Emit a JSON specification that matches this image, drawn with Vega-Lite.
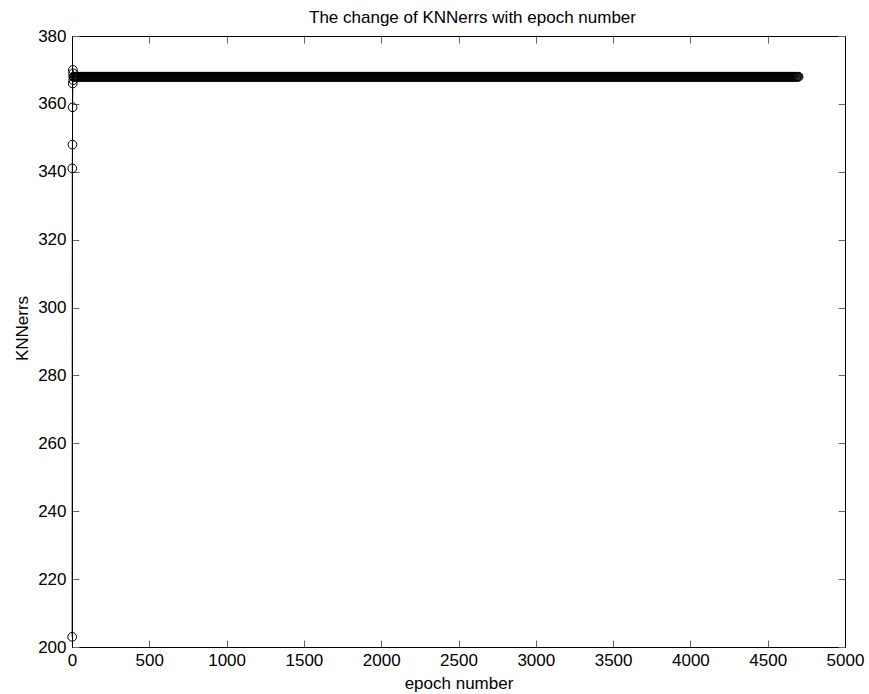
{
"$schema": "https://vega.github.io/schema/vega-lite/v6.json",
"width": 773, "height": 611,
"autosize": "none",
"padding": {"left": 72, "top": 36, "right": 24, "bottom": 47},
"background": "white",
"title": {"text": "The change of KNNerrs with epoch number", "font": "Liberation Sans", "fontSize": 17, "fontWeight": "normal", "color": "black", "anchor": "middle", "frame": "group", "dx": 14, "baseline": "top", "offset": 0},
"config": {
 "view": {"stroke": "black", "strokeWidth": 1},
 "axis": {"grid": false, "labelFont": "Liberation Sans", "labelFontSize": 17, "labelColor": "black", "titleFont": "Liberation Sans", "titleFontSize": 17, "titleFontWeight": "normal", "titleColor": "black", "domainColor": "black", "domainWidth": 1, "tickColor": "#666666", "tickSize": -7, "tickWidth": 1}
},
"data": {"values": [
{"e":1,"k":203},{"e":2,"k":341},{"e":3,"k":348},{"e":4,"k":359},{"e":5,"k":366},{"e":6,"k":370},{"e":7,"k":369},{"e":8,"k":367},{"e":9,"k":368},
{"e":10,"k":368},{"e":15,"k":368},{"e":20,"k":368},{"e":25,"k":368},{"e":30,"k":368},{"e":35,"k":368},{"e":40,"k":368},{"e":45,"k":368},{"e":50,"k":368},{"e":55,"k":368},{"e":60,"k":368},{"e":65,"k":368},{"e":70,"k":368},{"e":75,"k":368},{"e":80,"k":368},{"e":85,"k":368},{"e":90,"k":368},{"e":95,"k":368},{"e":100,"k":368},
{"e":105,"k":368},{"e":110,"k":368},{"e":115,"k":368},{"e":120,"k":368},{"e":125,"k":368},{"e":130,"k":368},{"e":135,"k":368},{"e":140,"k":368},{"e":145,"k":368},{"e":150,"k":368},{"e":155,"k":368},{"e":160,"k":368},{"e":165,"k":368},{"e":170,"k":368},{"e":175,"k":368},{"e":180,"k":368},{"e":185,"k":368},{"e":190,"k":368},{"e":195,"k":368},{"e":200,"k":368},
{"e":205,"k":368},{"e":210,"k":368},{"e":215,"k":368},{"e":220,"k":368},{"e":225,"k":368},{"e":230,"k":368},{"e":235,"k":368},{"e":240,"k":368},{"e":245,"k":368},{"e":250,"k":368},{"e":255,"k":368},{"e":260,"k":368},{"e":265,"k":368},{"e":270,"k":368},{"e":275,"k":368},{"e":280,"k":368},{"e":285,"k":368},{"e":290,"k":368},{"e":295,"k":368},{"e":300,"k":368},
{"e":305,"k":368},{"e":310,"k":368},{"e":315,"k":368},{"e":320,"k":368},{"e":325,"k":368},{"e":330,"k":368},{"e":335,"k":368},{"e":340,"k":368},{"e":345,"k":368},{"e":350,"k":368},{"e":355,"k":368},{"e":360,"k":368},{"e":365,"k":368},{"e":370,"k":368},{"e":375,"k":368},{"e":380,"k":368},{"e":385,"k":368},{"e":390,"k":368},{"e":395,"k":368},{"e":400,"k":368},
{"e":405,"k":368},{"e":410,"k":368},{"e":415,"k":368},{"e":420,"k":368},{"e":425,"k":368},{"e":430,"k":368},{"e":435,"k":368},{"e":440,"k":368},{"e":445,"k":368},{"e":450,"k":368},{"e":455,"k":368},{"e":460,"k":368},{"e":465,"k":368},{"e":470,"k":368},{"e":475,"k":368},{"e":480,"k":368},{"e":485,"k":368},{"e":490,"k":368},{"e":495,"k":368},{"e":500,"k":368},
{"e":505,"k":368},{"e":510,"k":368},{"e":515,"k":368},{"e":520,"k":368},{"e":525,"k":368},{"e":530,"k":368},{"e":535,"k":368},{"e":540,"k":368},{"e":545,"k":368},{"e":550,"k":368},{"e":555,"k":368},{"e":560,"k":368},{"e":565,"k":368},{"e":570,"k":368},{"e":575,"k":368},{"e":580,"k":368},{"e":585,"k":368},{"e":590,"k":368},{"e":595,"k":368},{"e":600,"k":368},
{"e":605,"k":368},{"e":610,"k":368},{"e":615,"k":368},{"e":620,"k":368},{"e":625,"k":368},{"e":630,"k":368},{"e":635,"k":368},{"e":640,"k":368},{"e":645,"k":368},{"e":650,"k":368},{"e":655,"k":368},{"e":660,"k":368},{"e":665,"k":368},{"e":670,"k":368},{"e":675,"k":368},{"e":680,"k":368},{"e":685,"k":368},{"e":690,"k":368},{"e":695,"k":368},{"e":700,"k":368},
{"e":705,"k":368},{"e":710,"k":368},{"e":715,"k":368},{"e":720,"k":368},{"e":725,"k":368},{"e":730,"k":368},{"e":735,"k":368},{"e":740,"k":368},{"e":745,"k":368},{"e":750,"k":368},{"e":755,"k":368},{"e":760,"k":368},{"e":765,"k":368},{"e":770,"k":368},{"e":775,"k":368},{"e":780,"k":368},{"e":785,"k":368},{"e":790,"k":368},{"e":795,"k":368},{"e":800,"k":368},
{"e":805,"k":368},{"e":810,"k":368},{"e":815,"k":368},{"e":820,"k":368},{"e":825,"k":368},{"e":830,"k":368},{"e":835,"k":368},{"e":840,"k":368},{"e":845,"k":368},{"e":850,"k":368},{"e":855,"k":368},{"e":860,"k":368},{"e":865,"k":368},{"e":870,"k":368},{"e":875,"k":368},{"e":880,"k":368},{"e":885,"k":368},{"e":890,"k":368},{"e":895,"k":368},{"e":900,"k":368},
{"e":905,"k":368},{"e":910,"k":368},{"e":915,"k":368},{"e":920,"k":368},{"e":925,"k":368},{"e":930,"k":368},{"e":935,"k":368},{"e":940,"k":368},{"e":945,"k":368},{"e":950,"k":368},{"e":955,"k":368},{"e":960,"k":368},{"e":965,"k":368},{"e":970,"k":368},{"e":975,"k":368},{"e":980,"k":368},{"e":985,"k":368},{"e":990,"k":368},{"e":995,"k":368},{"e":1000,"k":368},
{"e":1005,"k":368},{"e":1010,"k":368},{"e":1015,"k":368},{"e":1020,"k":368},{"e":1025,"k":368},{"e":1030,"k":368},{"e":1035,"k":368},{"e":1040,"k":368},{"e":1045,"k":368},{"e":1050,"k":368},{"e":1055,"k":368},{"e":1060,"k":368},{"e":1065,"k":368},{"e":1070,"k":368},{"e":1075,"k":368},{"e":1080,"k":368},{"e":1085,"k":368},{"e":1090,"k":368},{"e":1095,"k":368},{"e":1100,"k":368},
{"e":1105,"k":368},{"e":1110,"k":368},{"e":1115,"k":368},{"e":1120,"k":368},{"e":1125,"k":368},{"e":1130,"k":368},{"e":1135,"k":368},{"e":1140,"k":368},{"e":1145,"k":368},{"e":1150,"k":368},{"e":1155,"k":368},{"e":1160,"k":368},{"e":1165,"k":368},{"e":1170,"k":368},{"e":1175,"k":368},{"e":1180,"k":368},{"e":1185,"k":368},{"e":1190,"k":368},{"e":1195,"k":368},{"e":1200,"k":368},
{"e":1205,"k":368},{"e":1210,"k":368},{"e":1215,"k":368},{"e":1220,"k":368},{"e":1225,"k":368},{"e":1230,"k":368},{"e":1235,"k":368},{"e":1240,"k":368},{"e":1245,"k":368},{"e":1250,"k":368},{"e":1255,"k":368},{"e":1260,"k":368},{"e":1265,"k":368},{"e":1270,"k":368},{"e":1275,"k":368},{"e":1280,"k":368},{"e":1285,"k":368},{"e":1290,"k":368},{"e":1295,"k":368},{"e":1300,"k":368},
{"e":1305,"k":368},{"e":1310,"k":368},{"e":1315,"k":368},{"e":1320,"k":368},{"e":1325,"k":368},{"e":1330,"k":368},{"e":1335,"k":368},{"e":1340,"k":368},{"e":1345,"k":368},{"e":1350,"k":368},{"e":1355,"k":368},{"e":1360,"k":368},{"e":1365,"k":368},{"e":1370,"k":368},{"e":1375,"k":368},{"e":1380,"k":368},{"e":1385,"k":368},{"e":1390,"k":368},{"e":1395,"k":368},{"e":1400,"k":368},
{"e":1405,"k":368},{"e":1410,"k":368},{"e":1415,"k":368},{"e":1420,"k":368},{"e":1425,"k":368},{"e":1430,"k":368},{"e":1435,"k":368},{"e":1440,"k":368},{"e":1445,"k":368},{"e":1450,"k":368},{"e":1455,"k":368},{"e":1460,"k":368},{"e":1465,"k":368},{"e":1470,"k":368},{"e":1475,"k":368},{"e":1480,"k":368},{"e":1485,"k":368},{"e":1490,"k":368},{"e":1495,"k":368},{"e":1500,"k":368},
{"e":1505,"k":368},{"e":1510,"k":368},{"e":1515,"k":368},{"e":1520,"k":368},{"e":1525,"k":368},{"e":1530,"k":368},{"e":1535,"k":368},{"e":1540,"k":368},{"e":1545,"k":368},{"e":1550,"k":368},{"e":1555,"k":368},{"e":1560,"k":368},{"e":1565,"k":368},{"e":1570,"k":368},{"e":1575,"k":368},{"e":1580,"k":368},{"e":1585,"k":368},{"e":1590,"k":368},{"e":1595,"k":368},{"e":1600,"k":368},
{"e":1605,"k":368},{"e":1610,"k":368},{"e":1615,"k":368},{"e":1620,"k":368},{"e":1625,"k":368},{"e":1630,"k":368},{"e":1635,"k":368},{"e":1640,"k":368},{"e":1645,"k":368},{"e":1650,"k":368},{"e":1655,"k":368},{"e":1660,"k":368},{"e":1665,"k":368},{"e":1670,"k":368},{"e":1675,"k":368},{"e":1680,"k":368},{"e":1685,"k":368},{"e":1690,"k":368},{"e":1695,"k":368},{"e":1700,"k":368},
{"e":1705,"k":368},{"e":1710,"k":368},{"e":1715,"k":368},{"e":1720,"k":368},{"e":1725,"k":368},{"e":1730,"k":368},{"e":1735,"k":368},{"e":1740,"k":368},{"e":1745,"k":368},{"e":1750,"k":368},{"e":1755,"k":368},{"e":1760,"k":368},{"e":1765,"k":368},{"e":1770,"k":368},{"e":1775,"k":368},{"e":1780,"k":368},{"e":1785,"k":368},{"e":1790,"k":368},{"e":1795,"k":368},{"e":1800,"k":368},
{"e":1805,"k":368},{"e":1810,"k":368},{"e":1815,"k":368},{"e":1820,"k":368},{"e":1825,"k":368},{"e":1830,"k":368},{"e":1835,"k":368},{"e":1840,"k":368},{"e":1845,"k":368},{"e":1850,"k":368},{"e":1855,"k":368},{"e":1860,"k":368},{"e":1865,"k":368},{"e":1870,"k":368},{"e":1875,"k":368},{"e":1880,"k":368},{"e":1885,"k":368},{"e":1890,"k":368},{"e":1895,"k":368},{"e":1900,"k":368},
{"e":1905,"k":368},{"e":1910,"k":368},{"e":1915,"k":368},{"e":1920,"k":368},{"e":1925,"k":368},{"e":1930,"k":368},{"e":1935,"k":368},{"e":1940,"k":368},{"e":1945,"k":368},{"e":1950,"k":368},{"e":1955,"k":368},{"e":1960,"k":368},{"e":1965,"k":368},{"e":1970,"k":368},{"e":1975,"k":368},{"e":1980,"k":368},{"e":1985,"k":368},{"e":1990,"k":368},{"e":1995,"k":368},{"e":2000,"k":368},
{"e":2005,"k":368},{"e":2010,"k":368},{"e":2015,"k":368},{"e":2020,"k":368},{"e":2025,"k":368},{"e":2030,"k":368},{"e":2035,"k":368},{"e":2040,"k":368},{"e":2045,"k":368},{"e":2050,"k":368},{"e":2055,"k":368},{"e":2060,"k":368},{"e":2065,"k":368},{"e":2070,"k":368},{"e":2075,"k":368},{"e":2080,"k":368},{"e":2085,"k":368},{"e":2090,"k":368},{"e":2095,"k":368},{"e":2100,"k":368},
{"e":2105,"k":368},{"e":2110,"k":368},{"e":2115,"k":368},{"e":2120,"k":368},{"e":2125,"k":368},{"e":2130,"k":368},{"e":2135,"k":368},{"e":2140,"k":368},{"e":2145,"k":368},{"e":2150,"k":368},{"e":2155,"k":368},{"e":2160,"k":368},{"e":2165,"k":368},{"e":2170,"k":368},{"e":2175,"k":368},{"e":2180,"k":368},{"e":2185,"k":368},{"e":2190,"k":368},{"e":2195,"k":368},{"e":2200,"k":368},
{"e":2205,"k":368},{"e":2210,"k":368},{"e":2215,"k":368},{"e":2220,"k":368},{"e":2225,"k":368},{"e":2230,"k":368},{"e":2235,"k":368},{"e":2240,"k":368},{"e":2245,"k":368},{"e":2250,"k":368},{"e":2255,"k":368},{"e":2260,"k":368},{"e":2265,"k":368},{"e":2270,"k":368},{"e":2275,"k":368},{"e":2280,"k":368},{"e":2285,"k":368},{"e":2290,"k":368},{"e":2295,"k":368},{"e":2300,"k":368},
{"e":2305,"k":368},{"e":2310,"k":368},{"e":2315,"k":368},{"e":2320,"k":368},{"e":2325,"k":368},{"e":2330,"k":368},{"e":2335,"k":368},{"e":2340,"k":368},{"e":2345,"k":368},{"e":2350,"k":368},{"e":2355,"k":368},{"e":2360,"k":368},{"e":2365,"k":368},{"e":2370,"k":368},{"e":2375,"k":368},{"e":2380,"k":368},{"e":2385,"k":368},{"e":2390,"k":368},{"e":2395,"k":368},{"e":2400,"k":368},
{"e":2405,"k":368},{"e":2410,"k":368},{"e":2415,"k":368},{"e":2420,"k":368},{"e":2425,"k":368},{"e":2430,"k":368},{"e":2435,"k":368},{"e":2440,"k":368},{"e":2445,"k":368},{"e":2450,"k":368},{"e":2455,"k":368},{"e":2460,"k":368},{"e":2465,"k":368},{"e":2470,"k":368},{"e":2475,"k":368},{"e":2480,"k":368},{"e":2485,"k":368},{"e":2490,"k":368},{"e":2495,"k":368},{"e":2500,"k":368},
{"e":2505,"k":368},{"e":2510,"k":368},{"e":2515,"k":368},{"e":2520,"k":368},{"e":2525,"k":368},{"e":2530,"k":368},{"e":2535,"k":368},{"e":2540,"k":368},{"e":2545,"k":368},{"e":2550,"k":368},{"e":2555,"k":368},{"e":2560,"k":368},{"e":2565,"k":368},{"e":2570,"k":368},{"e":2575,"k":368},{"e":2580,"k":368},{"e":2585,"k":368},{"e":2590,"k":368},{"e":2595,"k":368},{"e":2600,"k":368},
{"e":2605,"k":368},{"e":2610,"k":368},{"e":2615,"k":368},{"e":2620,"k":368},{"e":2625,"k":368},{"e":2630,"k":368},{"e":2635,"k":368},{"e":2640,"k":368},{"e":2645,"k":368},{"e":2650,"k":368},{"e":2655,"k":368},{"e":2660,"k":368},{"e":2665,"k":368},{"e":2670,"k":368},{"e":2675,"k":368},{"e":2680,"k":368},{"e":2685,"k":368},{"e":2690,"k":368},{"e":2695,"k":368},{"e":2700,"k":368},
{"e":2705,"k":368},{"e":2710,"k":368},{"e":2715,"k":368},{"e":2720,"k":368},{"e":2725,"k":368},{"e":2730,"k":368},{"e":2735,"k":368},{"e":2740,"k":368},{"e":2745,"k":368},{"e":2750,"k":368},{"e":2755,"k":368},{"e":2760,"k":368},{"e":2765,"k":368},{"e":2770,"k":368},{"e":2775,"k":368},{"e":2780,"k":368},{"e":2785,"k":368},{"e":2790,"k":368},{"e":2795,"k":368},{"e":2800,"k":368},
{"e":2805,"k":368},{"e":2810,"k":368},{"e":2815,"k":368},{"e":2820,"k":368},{"e":2825,"k":368},{"e":2830,"k":368},{"e":2835,"k":368},{"e":2840,"k":368},{"e":2845,"k":368},{"e":2850,"k":368},{"e":2855,"k":368},{"e":2860,"k":368},{"e":2865,"k":368},{"e":2870,"k":368},{"e":2875,"k":368},{"e":2880,"k":368},{"e":2885,"k":368},{"e":2890,"k":368},{"e":2895,"k":368},{"e":2900,"k":368},
{"e":2905,"k":368},{"e":2910,"k":368},{"e":2915,"k":368},{"e":2920,"k":368},{"e":2925,"k":368},{"e":2930,"k":368},{"e":2935,"k":368},{"e":2940,"k":368},{"e":2945,"k":368},{"e":2950,"k":368},{"e":2955,"k":368},{"e":2960,"k":368},{"e":2965,"k":368},{"e":2970,"k":368},{"e":2975,"k":368},{"e":2980,"k":368},{"e":2985,"k":368},{"e":2990,"k":368},{"e":2995,"k":368},{"e":3000,"k":368},
{"e":3005,"k":368},{"e":3010,"k":368},{"e":3015,"k":368},{"e":3020,"k":368},{"e":3025,"k":368},{"e":3030,"k":368},{"e":3035,"k":368},{"e":3040,"k":368},{"e":3045,"k":368},{"e":3050,"k":368},{"e":3055,"k":368},{"e":3060,"k":368},{"e":3065,"k":368},{"e":3070,"k":368},{"e":3075,"k":368},{"e":3080,"k":368},{"e":3085,"k":368},{"e":3090,"k":368},{"e":3095,"k":368},{"e":3100,"k":368},
{"e":3105,"k":368},{"e":3110,"k":368},{"e":3115,"k":368},{"e":3120,"k":368},{"e":3125,"k":368},{"e":3130,"k":368},{"e":3135,"k":368},{"e":3140,"k":368},{"e":3145,"k":368},{"e":3150,"k":368},{"e":3155,"k":368},{"e":3160,"k":368},{"e":3165,"k":368},{"e":3170,"k":368},{"e":3175,"k":368},{"e":3180,"k":368},{"e":3185,"k":368},{"e":3190,"k":368},{"e":3195,"k":368},{"e":3200,"k":368},
{"e":3205,"k":368},{"e":3210,"k":368},{"e":3215,"k":368},{"e":3220,"k":368},{"e":3225,"k":368},{"e":3230,"k":368},{"e":3235,"k":368},{"e":3240,"k":368},{"e":3245,"k":368},{"e":3250,"k":368},{"e":3255,"k":368},{"e":3260,"k":368},{"e":3265,"k":368},{"e":3270,"k":368},{"e":3275,"k":368},{"e":3280,"k":368},{"e":3285,"k":368},{"e":3290,"k":368},{"e":3295,"k":368},{"e":3300,"k":368},
{"e":3305,"k":368},{"e":3310,"k":368},{"e":3315,"k":368},{"e":3320,"k":368},{"e":3325,"k":368},{"e":3330,"k":368},{"e":3335,"k":368},{"e":3340,"k":368},{"e":3345,"k":368},{"e":3350,"k":368},{"e":3355,"k":368},{"e":3360,"k":368},{"e":3365,"k":368},{"e":3370,"k":368},{"e":3375,"k":368},{"e":3380,"k":368},{"e":3385,"k":368},{"e":3390,"k":368},{"e":3395,"k":368},{"e":3400,"k":368},
{"e":3405,"k":368},{"e":3410,"k":368},{"e":3415,"k":368},{"e":3420,"k":368},{"e":3425,"k":368},{"e":3430,"k":368},{"e":3435,"k":368},{"e":3440,"k":368},{"e":3445,"k":368},{"e":3450,"k":368},{"e":3455,"k":368},{"e":3460,"k":368},{"e":3465,"k":368},{"e":3470,"k":368},{"e":3475,"k":368},{"e":3480,"k":368},{"e":3485,"k":368},{"e":3490,"k":368},{"e":3495,"k":368},{"e":3500,"k":368},
{"e":3505,"k":368},{"e":3510,"k":368},{"e":3515,"k":368},{"e":3520,"k":368},{"e":3525,"k":368},{"e":3530,"k":368},{"e":3535,"k":368},{"e":3540,"k":368},{"e":3545,"k":368},{"e":3550,"k":368},{"e":3555,"k":368},{"e":3560,"k":368},{"e":3565,"k":368},{"e":3570,"k":368},{"e":3575,"k":368},{"e":3580,"k":368},{"e":3585,"k":368},{"e":3590,"k":368},{"e":3595,"k":368},{"e":3600,"k":368},
{"e":3605,"k":368},{"e":3610,"k":368},{"e":3615,"k":368},{"e":3620,"k":368},{"e":3625,"k":368},{"e":3630,"k":368},{"e":3635,"k":368},{"e":3640,"k":368},{"e":3645,"k":368},{"e":3650,"k":368},{"e":3655,"k":368},{"e":3660,"k":368},{"e":3665,"k":368},{"e":3670,"k":368},{"e":3675,"k":368},{"e":3680,"k":368},{"e":3685,"k":368},{"e":3690,"k":368},{"e":3695,"k":368},{"e":3700,"k":368},
{"e":3705,"k":368},{"e":3710,"k":368},{"e":3715,"k":368},{"e":3720,"k":368},{"e":3725,"k":368},{"e":3730,"k":368},{"e":3735,"k":368},{"e":3740,"k":368},{"e":3745,"k":368},{"e":3750,"k":368},{"e":3755,"k":368},{"e":3760,"k":368},{"e":3765,"k":368},{"e":3770,"k":368},{"e":3775,"k":368},{"e":3780,"k":368},{"e":3785,"k":368},{"e":3790,"k":368},{"e":3795,"k":368},{"e":3800,"k":368},
{"e":3805,"k":368},{"e":3810,"k":368},{"e":3815,"k":368},{"e":3820,"k":368},{"e":3825,"k":368},{"e":3830,"k":368},{"e":3835,"k":368},{"e":3840,"k":368},{"e":3845,"k":368},{"e":3850,"k":368},{"e":3855,"k":368},{"e":3860,"k":368},{"e":3865,"k":368},{"e":3870,"k":368},{"e":3875,"k":368},{"e":3880,"k":368},{"e":3885,"k":368},{"e":3890,"k":368},{"e":3895,"k":368},{"e":3900,"k":368},
{"e":3905,"k":368},{"e":3910,"k":368},{"e":3915,"k":368},{"e":3920,"k":368},{"e":3925,"k":368},{"e":3930,"k":368},{"e":3935,"k":368},{"e":3940,"k":368},{"e":3945,"k":368},{"e":3950,"k":368},{"e":3955,"k":368},{"e":3960,"k":368},{"e":3965,"k":368},{"e":3970,"k":368},{"e":3975,"k":368},{"e":3980,"k":368},{"e":3985,"k":368},{"e":3990,"k":368},{"e":3995,"k":368},{"e":4000,"k":368},
{"e":4005,"k":368},{"e":4010,"k":368},{"e":4015,"k":368},{"e":4020,"k":368},{"e":4025,"k":368},{"e":4030,"k":368},{"e":4035,"k":368},{"e":4040,"k":368},{"e":4045,"k":368},{"e":4050,"k":368},{"e":4055,"k":368},{"e":4060,"k":368},{"e":4065,"k":368},{"e":4070,"k":368},{"e":4075,"k":368},{"e":4080,"k":368},{"e":4085,"k":368},{"e":4090,"k":368},{"e":4095,"k":368},{"e":4100,"k":368},
{"e":4105,"k":368},{"e":4110,"k":368},{"e":4115,"k":368},{"e":4120,"k":368},{"e":4125,"k":368},{"e":4130,"k":368},{"e":4135,"k":368},{"e":4140,"k":368},{"e":4145,"k":368},{"e":4150,"k":368},{"e":4155,"k":368},{"e":4160,"k":368},{"e":4165,"k":368},{"e":4170,"k":368},{"e":4175,"k":368},{"e":4180,"k":368},{"e":4185,"k":368},{"e":4190,"k":368},{"e":4195,"k":368},{"e":4200,"k":368},
{"e":4205,"k":368},{"e":4210,"k":368},{"e":4215,"k":368},{"e":4220,"k":368},{"e":4225,"k":368},{"e":4230,"k":368},{"e":4235,"k":368},{"e":4240,"k":368},{"e":4245,"k":368},{"e":4250,"k":368},{"e":4255,"k":368},{"e":4260,"k":368},{"e":4265,"k":368},{"e":4270,"k":368},{"e":4275,"k":368},{"e":4280,"k":368},{"e":4285,"k":368},{"e":4290,"k":368},{"e":4295,"k":368},{"e":4300,"k":368},
{"e":4305,"k":368},{"e":4310,"k":368},{"e":4315,"k":368},{"e":4320,"k":368},{"e":4325,"k":368},{"e":4330,"k":368},{"e":4335,"k":368},{"e":4340,"k":368},{"e":4345,"k":368},{"e":4350,"k":368},{"e":4355,"k":368},{"e":4360,"k":368},{"e":4365,"k":368},{"e":4370,"k":368},{"e":4375,"k":368},{"e":4380,"k":368},{"e":4385,"k":368},{"e":4390,"k":368},{"e":4395,"k":368},{"e":4400,"k":368},
{"e":4405,"k":368},{"e":4410,"k":368},{"e":4415,"k":368},{"e":4420,"k":368},{"e":4425,"k":368},{"e":4430,"k":368},{"e":4435,"k":368},{"e":4440,"k":368},{"e":4445,"k":368},{"e":4450,"k":368},{"e":4455,"k":368},{"e":4460,"k":368},{"e":4465,"k":368},{"e":4470,"k":368},{"e":4475,"k":368},{"e":4480,"k":368},{"e":4485,"k":368},{"e":4490,"k":368},{"e":4495,"k":368},{"e":4500,"k":368},
{"e":4505,"k":368},{"e":4510,"k":368},{"e":4515,"k":368},{"e":4520,"k":368},{"e":4525,"k":368},{"e":4530,"k":368},{"e":4535,"k":368},{"e":4540,"k":368},{"e":4545,"k":368},{"e":4550,"k":368},{"e":4555,"k":368},{"e":4560,"k":368},{"e":4565,"k":368},{"e":4570,"k":368},{"e":4575,"k":368},{"e":4580,"k":368},{"e":4585,"k":368},{"e":4590,"k":368},{"e":4595,"k":368},{"e":4600,"k":368},
{"e":4605,"k":368},{"e":4610,"k":368},{"e":4615,"k":368},{"e":4620,"k":368},{"e":4625,"k":368},{"e":4630,"k":368},{"e":4635,"k":368},{"e":4640,"k":368},{"e":4645,"k":368},{"e":4650,"k":368},{"e":4655,"k":368},{"e":4660,"k":368},{"e":4665,"k":368},{"e":4670,"k":368},{"e":4675,"k":368},{"e":4680,"k":368},{"e":4685,"k":368},{"e":4690,"k":368},{"e":4695,"k":368},{"e":4700,"k":368}
]},
"layer": [
 {"mark": {"type": "line", "color": "black", "strokeWidth": 1},
  "encoding": {
   "x": {"field": "e", "type": "quantitative", "scale": {"domain": [0, 5000], "nice": false},
         "axis": {"orient": "bottom", "title": "epoch number", "format": "d", "values": [0,500,1000,1500,2000,2500,3000,3500,4000,4500,5000], "labelPadding": 12, "labelFlush": false, "labelOverlap": false, "titleBaseline": "alphabetic", "titleY": 41}},
   "y": {"field": "k", "type": "quantitative", "scale": {"domain": [200, 380], "nice": false, "zero": false},
         "axis": {"orient": "left", "title": "KNNerrs", "format": "d", "values": [200,220,240,260,280,300,320,340,360,380], "labelPadding": 13, "labelFlush": false, "labelOverlap": false, "titleAngle": -90, "titleX": -50, "titleY": 292, "titleAlign": "center", "titleBaseline": "middle"}}
  }},
 {"mark": {"type": "point", "shape": "circle", "filled": false, "color": "black", "size": 76, "strokeWidth": 1, "opacity": 1},
  "encoding": {
   "x": {"field": "e", "type": "quantitative", "scale": {"domain": [0, 5000], "nice": false},
         "axis": {"orient": "top", "labels": false, "title": null, "values": [0,500,1000,1500,2000,2500,3000,3500,4000,4500,5000]}},
   "y": {"field": "k", "type": "quantitative", "scale": {"domain": [200, 380], "nice": false, "zero": false},
         "axis": {"orient": "right", "labels": false, "title": null, "values": [200,220,240,260,280,300,320,340,360,380]}}
  }}
],
"resolve": {"axis": {"x": "independent", "y": "independent"}}
}
